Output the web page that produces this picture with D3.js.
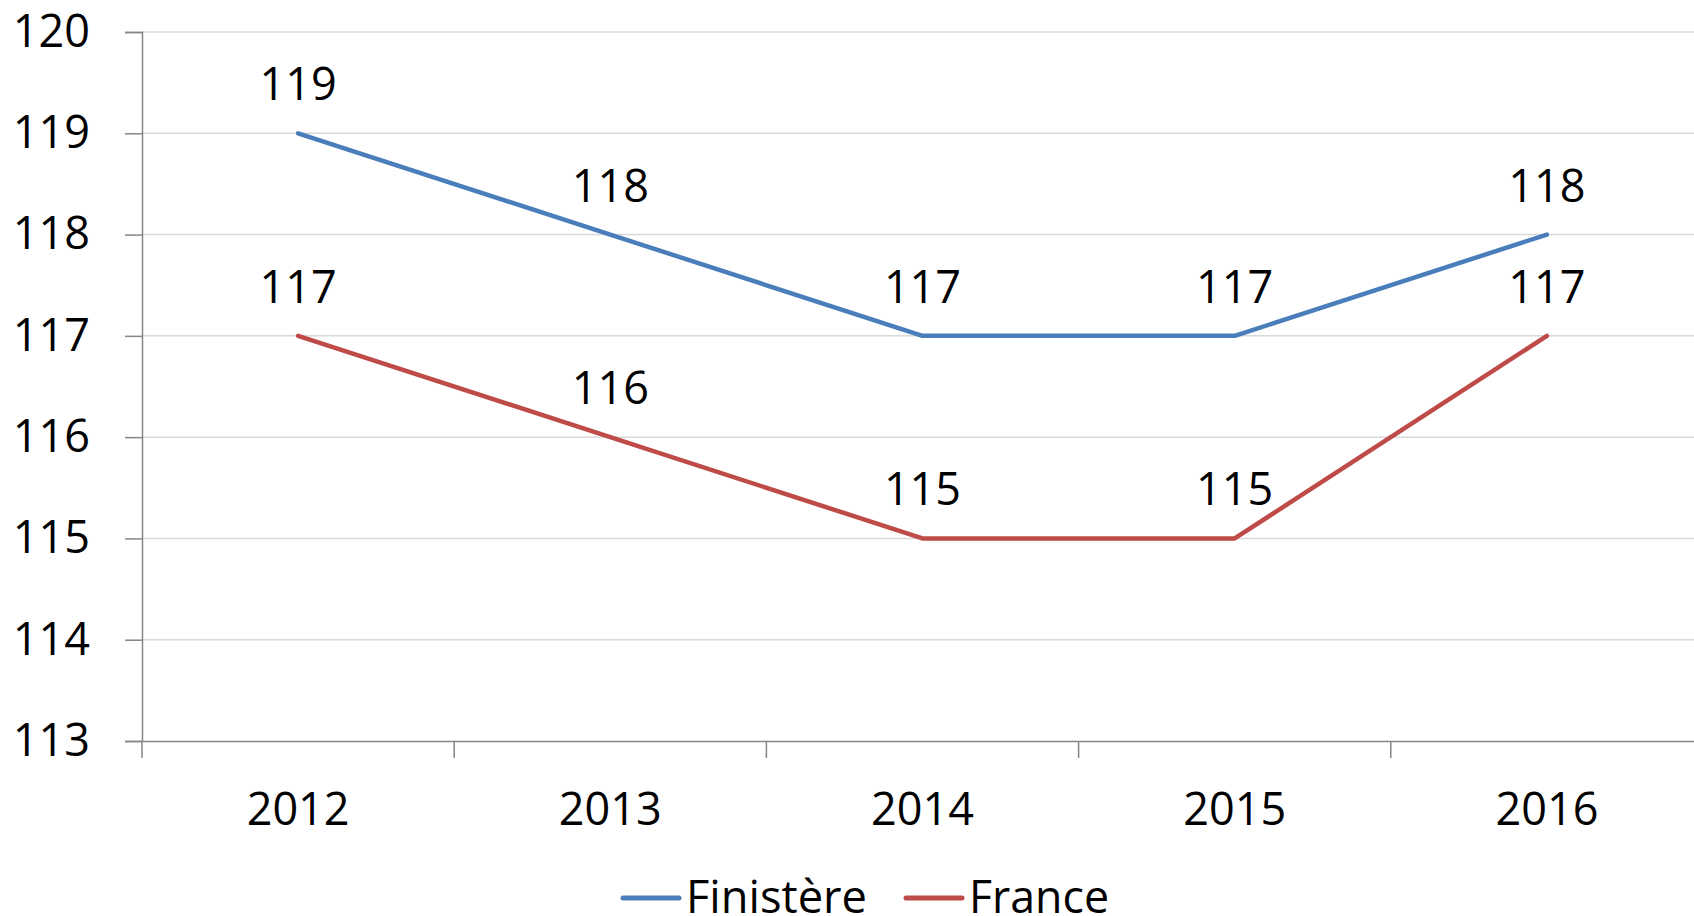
<!DOCTYPE html>
<html lang="fr">
<head>
    <meta charset="UTF-8">
    <title>Finistère / France</title>
    <script src="https://d3js.org/d3.v7.min.js"></script>
    <style>
        body { margin: 0; background: #fff; }
        svg { display: block; font-family: "Open Sans", "Liberation Sans", sans-serif; }
    </style>
</head>
<body>
<script>
    const years = ["2012", "2013", "2014", "2015", "2016"];
    const finistere = [119, 118, 117, 117, 118];
    const france = [117, 116, 115, 115, 117];
    const yTicks = [113, 114, 115, 116, 117, 118, 119, 120];

    const series = [
        { name: "Finistère", values: finistere, color: "#4a7ebb" },
        { name: "France", values: france, color: "#be4b48" }
    ];

    const width = 1694;
    const height = 916;
    const plotLeft = 142, plotTop = 32, plotBottom = 741, plotRight = 1703;

    const svg = d3.select("body").append("svg")
        .attr("width", width)
        .attr("height", height);

    const x = d3.scaleBand()
        .domain(years)
        .range([plotLeft, plotRight]);

    const y = d3.scaleLinear()
        .domain([113, 120])
        .range([plotBottom, plotTop]);

    // grid
    svg.append("g")
        .selectAll("line")
        .data(yTicks.filter(d => d !== 113))
        .join("line")
        .attr("x1", plotLeft)
        .attr("x2", plotRight)
        .attr("y1", d => y(d))
        .attr("y2", d => y(d))
        .attr("stroke", "#d9d9d9")
        .attr("stroke-width", 1.5);

    // y axis
    const yAxis = svg.append("g")
        .attr("transform", `translate(${plotLeft},0)`)
        .call(d3.axisLeft(y).tickValues(yTicks).tickFormat(d3.format("d")).tickSize(17).tickPadding(35));
    yAxis.select(".domain").attr("stroke", "#868686").attr("stroke-width", 1.5);
    yAxis.selectAll(".tick line").attr("stroke", "#868686").attr("stroke-width", 1.5);
    yAxis.selectAll(".tick text")
        .attr("fill", "#000")
        .attr("font-size", 45)
        .attr("font-family", "Open Sans, Liberation Sans, sans-serif");

    // x axis
    const xAxis = svg.append("g")
        .attr("transform", `translate(0,${plotBottom})`)
        .call(d3.axisBottom(x).tickSize(0).tickPadding(52));
    xAxis.select(".domain").attr("stroke", "#868686").attr("stroke-width", 1.5);
    xAxis.selectAll(".tick text")
        .attr("fill", "#000")
        .attr("font-size", 45)
        .attr("font-family", "Open Sans, Liberation Sans, sans-serif");

    // category boundary ticks
    svg.append("g")
        .selectAll("line")
        .data(years)
        .join("line")
        .attr("x1", d => x(d))
        .attr("x2", d => x(d))
        .attr("y1", plotBottom)
        .attr("y2", plotBottom + 17)
        .attr("stroke", "#868686")
        .attr("stroke-width", 1.5);

    const line = d3.line()
        .x((d, i) => x(years[i]) + x.bandwidth() / 2)
        .y(d => y(d));

    series.forEach(s => {
        svg.append("path")
            .datum(s.values)
            .attr("fill", "none")
            .attr("stroke", s.color)
            .attr("stroke-width", 4.5)
            .attr("stroke-linecap", "round")
            .attr("stroke-linejoin", "round")
            .attr("d", line);

        svg.append("g")
            .selectAll("text")
            .data(s.values)
            .join("text")
            .attr("x", (d, i) => x(years[i]) + x.bandwidth() / 2)
            .attr("y", d => y(d) - 33)
            .attr("text-anchor", "middle")
            .attr("font-size", 45)
            .attr("fill", "#000")
            .text(d => d);
    });

    // legend
    const legendItems = [
        { name: "Finistère", color: "#4a7ebb", x: 623, w: 181 },
        { name: "France", color: "#be4b48", x: 906, w: 140 }
    ];
    const lg = svg.append("g");
    legendItems.forEach(it => {
        lg.append("line")
            .attr("x1", it.x)
            .attr("x2", it.x + 56)
            .attr("y1", 898)
            .attr("y2", 898)
            .attr("stroke", it.color)
            .attr("stroke-width", 5)
            .attr("stroke-linecap", "round");
        lg.append("text")
            .attr("x", it.x + 63)
            .attr("y", 913)
            .attr("font-size", 46)
            .attr("textLength", it.w)
            .attr("lengthAdjust", "spacingAndGlyphs")
            .attr("fill", "#000")
            .text(it.name);
    });
</script>
</body>
</html>
